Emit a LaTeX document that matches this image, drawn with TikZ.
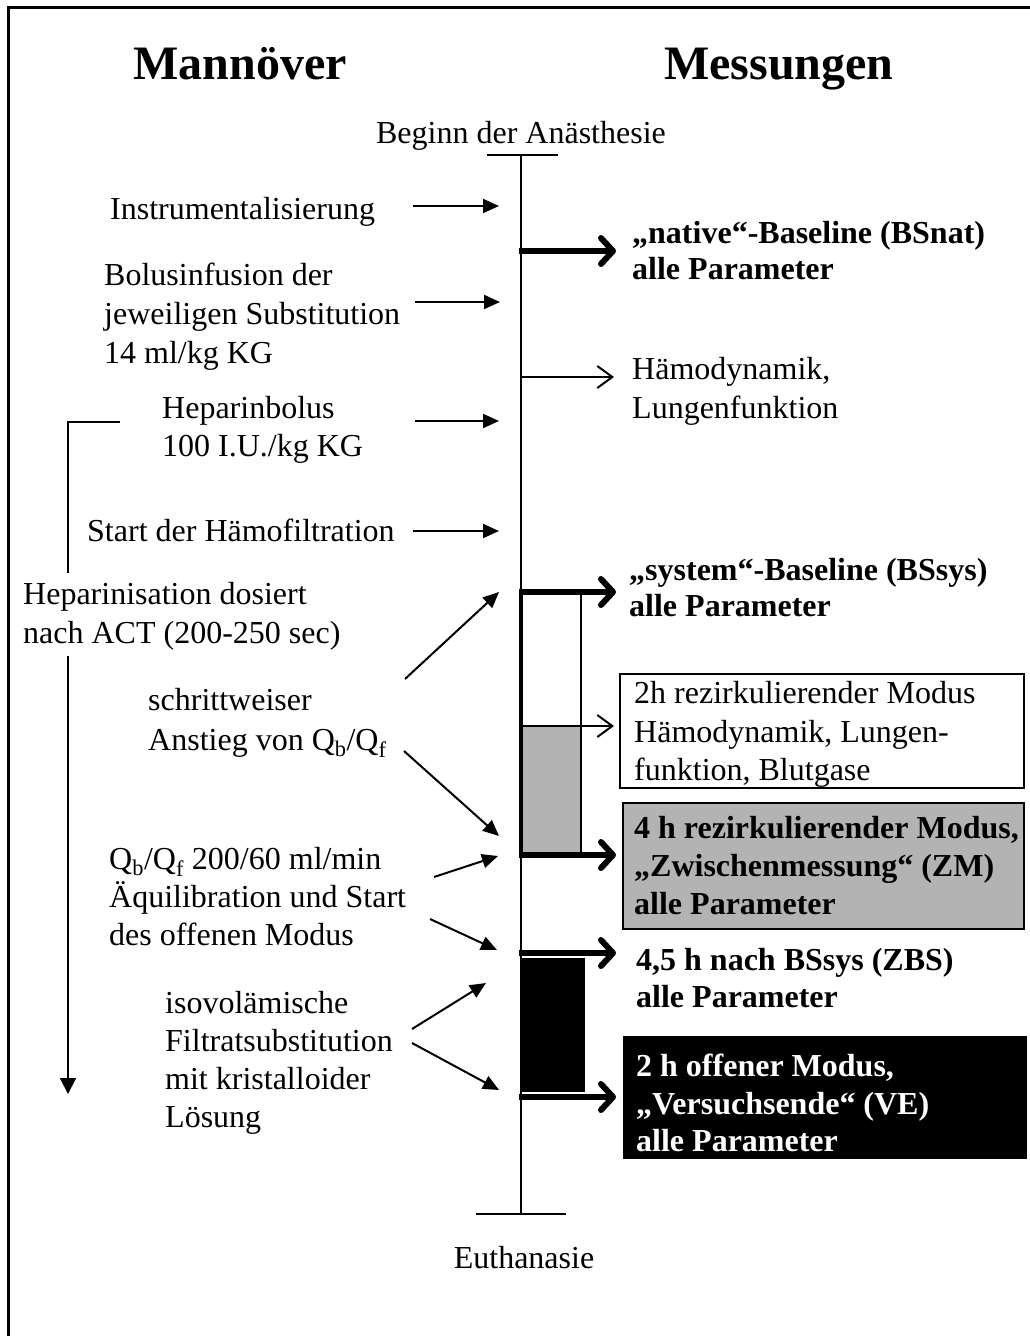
\documentclass[tikz,border=0pt]{standalone}
\usepackage{fontspec}
\setmainfont{Liberation Serif}
\usetikzlibrary{arrows.meta}
\definecolor{boxgray}{RGB}{179,179,179}
\begin{document}
\begin{tikzpicture}[x=1pt,y=-1pt,
  txt/.style={anchor=base west, inner sep=0pt, font=\fontsize{32}{39}\selectfont},
  btxt/.style={anchor=base west, inner sep=0pt, font=\fontsize{32}{39}\selectfont\bfseries},
  ctxt/.style={anchor=base, inner sep=0pt, font=\fontsize{32}{39}\selectfont},
  title/.style={anchor=base, inner sep=0pt, font=\fontsize{48}{58}\selectfont\bfseries},
  inarrow/.style={line width=2pt, -{Triangle[length=16pt,width=14pt]}},
  bigarrow/.style={line width=6pt, -{Straight Barb[length=12pt,width=26pt,line cap=round,line join=round]}},
  thinarrow/.style={line width=2pt, -{Straight Barb[length=15pt,width=22pt]}},
  boxstyle/.style={anchor=north west, draw, line width=2pt, inner sep=0pt},
]
\useasboundingbox (0,0) rectangle (1029,1336);
% frame
\draw[line width=3pt] (8,1345) -- (8,7) -- (1040,7);
% titles
\node[title] (t1) at (240,79) {Mannöver};
\node[title] (t2) at (779,79) {Messungen};
% timeline
\coordinate (top) at (521,155);
\coordinate (bot) at (521,1214);
\coordinate (tl1) at (487,155);
\coordinate (tr1) at (558,155);
\coordinate (bl1) at (476,1214);
\coordinate (br1) at (566,1214);
\draw[line width=2.5pt] (top) -- (bot);
\draw[line width=2.5pt] (tl1) -- (tr1);
\draw[line width=2.5pt] (bl1) -- (br1);
\node[ctxt] (beg) at (521,143) {Beginn der Anästhesie};
\node[ctxt] (eut) at (524,1268) {Euthanasie};
% phase rectangles
\draw[line width=2pt, fill=white] (521,592) rectangle (581,726);
\draw[line width=2pt, fill=boxgray] (521,726) rectangle (581,855);
\draw[line width=4pt] (521,592) -- (521,855);
\fill (521,958) rectangle (585,1092);
% left texts
\node[txt] (l1) at (110,219) {Instrumentalisierung};
\node[txt] (l2a) at (104,285) {Bolusinfusion der};
\node[txt] (l2b) at (104,324) {jeweiligen Substitution};
\node[txt] (l2c) at (104,363) {14 ml/kg KG};
\node[txt] (l3a) at (162,418) {Heparinbolus};
\node[txt] (l3b) at (162,456) {100 I.U./kg KG};
\node[txt] (l4) at (87,541) {Start der Hämofiltration};
\node[txt] (l5a) at (23,604) {Heparinisation dosiert};
\node[txt] (l5b) at (23,643) {nach ACT (200-250 sec)};
\node[txt] (l6a) at (148,710) {schrittweiser};
\node[txt] (l6b) at (148,750) {Anstieg von Q\textsubscript{b}/Q\textsubscript{f}};
\node[txt] (l7a) at (109,869) {Q\textsubscript{b}/Q\textsubscript{f} 200/60 ml/min};
\node[txt] (l7b) at (109,907) {Äquilibration und Start};
\node[txt] (l7c) at (109,945) {des offenen Modus};
\node[txt] (l8a) at (165,1013) {isovolämische};
\node[txt] (l8b) at (165,1051) {Filtratsubstitution};
\node[txt] (l8c) at (165,1089) {mit kristalloider};
\node[txt] (l8d) at (165,1127) {Lösung};
% bracket
\coordinate (br0) at (120,422);
\coordinate (br1) at (68,422);
\coordinate (br2) at (68,573);
\coordinate (br3) at (68,656);
\coordinate (br4) at (68,1094);
\draw[line width=2pt] (br0) -- (br1) -- (br2);
\draw[line width=2pt, -{Triangle[length=16pt,width=16pt]}] (br3) -- (br4);
% left arrows
\coordinate (a1s) at (413,206); \coordinate (a1e) at (499,206);
\coordinate (a2s) at (415,302); \coordinate (a2e) at (500,302);
\coordinate (a3s) at (415,421); \coordinate (a3e) at (499,421);
\coordinate (a4s) at (413,531); \coordinate (a4e) at (499,531);
\coordinate (a5s) at (405,679); \coordinate (a5e) at (499,592);
\coordinate (a6s) at (404,751); \coordinate (a6e) at (499,836);
\coordinate (a7s) at (434,877); \coordinate (a7e) at (498,856);
\coordinate (a8s) at (430,919); \coordinate (a8e) at (497,950);
\coordinate (a9s) at (412,1029); \coordinate (a9e) at (486,983);
\coordinate (a10s) at (412,1043); \coordinate (a10e) at (499,1090);
\foreach \i in {1,...,10} {\draw[inarrow] (a\i s) -- (a\i e);}
% right arrows
\coordinate (r1s) at (519,251); \coordinate (r1e) at (616,251);
\coordinate (r2s) at (521,377); \coordinate (r2e) at (614,377);
\coordinate (r3s) at (519,592); \coordinate (r3e) at (616,592);
\coordinate (r4s) at (521,726); \coordinate (r4e) at (614,726);
\coordinate (r5s) at (519,855); \coordinate (r5e) at (616,855);
\coordinate (r6s) at (519,953); \coordinate (r6e) at (616,953);
\coordinate (r7s) at (519,1097); \coordinate (r7e) at (616,1097);
\draw[bigarrow] (r1s) -- (r1e);
\draw[thinarrow] (r2s) -- (r2e);
\draw[bigarrow] (r3s) -- (r3e);
\draw[thinarrow] (r4s) -- (r4e);
\draw[bigarrow] (r5s) -- (r5e);
\draw[bigarrow] (r6s) -- (r6e);
\draw[bigarrow] (r7s) -- (r7e);
% right texts
\node[btxt] (m1a) at (632,243) {„native“-Baseline (BSnat)};
\node[btxt] (m1b) at (632,279) {alle Parameter};
\node[txt] (m2a) at (632,379) {Hämodynamik,};
\node[txt] (m2b) at (632,418) {Lungenfunktion};
\node[btxt] (m3a) at (629,580) {„system“-Baseline (BSsys)};
\node[btxt] (m3b) at (629,616) {alle Parameter};
\node[boxstyle, fill=white, minimum width=404pt, minimum height=114pt] (box1) at (619,673) {};
\node[txt] (m4a) at (634,703) {2h rezirkulierender Modus};
\node[txt] (m4b) at (634,742) {Hämodynamik, Lungen-};
\node[txt] (m4c) at (634,780) {funktion, Blutgase};
\node[boxstyle, fill=boxgray, minimum width=401pt, minimum height=126pt] (box2) at (622,802) {};
\node[btxt] (m5a) at (634,838) {4 h rezirkulierender Modus,};
\node[btxt] (m5b) at (634,876) {„Zwischenmessung“ (ZM)};
\node[btxt] (m5c) at (634,914) {alle Parameter};
\node[btxt] (m6a) at (636,970) {4,5 h nach BSsys (ZBS)};
\node[btxt] (m6b) at (636,1007) {alle Parameter};
\node[boxstyle, fill=black, minimum width=402pt, minimum height=121pt] (box3) at (623,1036) {};
\node[btxt, text=white] (m7a) at (636,1076) {2 h offener Modus,};
\node[btxt, text=white] (m7b) at (636,1114) {„Versuchsende“ (VE)};
\node[btxt, text=white] (m7c) at (636,1151) {alle Parameter};
\end{tikzpicture}
\end{document}
